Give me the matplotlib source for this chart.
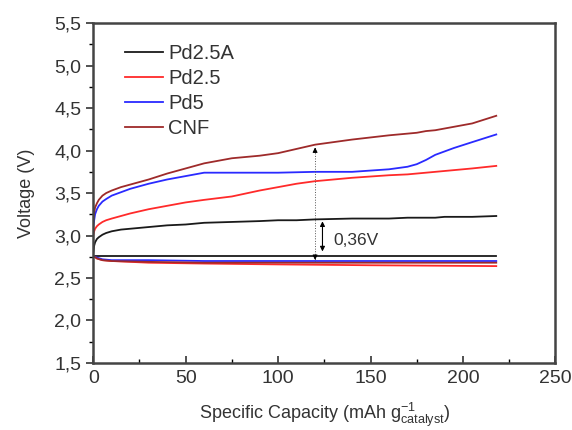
import matplotlib
matplotlib.use("Agg")
import matplotlib.pyplot as plt
from matplotlib.ticker import MultipleLocator, FuncFormatter

plt.rcParams['font.family'] = ['Liberation Sans', 'DejaVu Sans']

# charge curves (capacity, voltage)
cap = [0, 0.5, 1, 2, 3, 5, 7, 10, 15, 20, 30, 40, 50, 60, 75, 90, 100, 110, 120,
       140, 160, 170, 175, 180, 185, 190, 195, 205, 218]
pd25a_charge = [2.80, 2.88, 2.92, 2.96, 2.98, 3.01, 3.03, 3.05, 3.07, 3.08, 3.10, 3.12, 3.13, 3.15,
                3.16, 3.17, 3.18, 3.18, 3.19, 3.20, 3.20, 3.21, 3.21, 3.21, 3.21, 3.22, 3.22, 3.22, 3.23]
pd25_charge = [3.00, 3.05, 3.08, 3.11, 3.13, 3.16, 3.18, 3.20, 3.23, 3.26, 3.31, 3.35, 3.39, 3.42,
               3.46, 3.53, 3.57, 3.61, 3.64, 3.68, 3.71, 3.72, 3.73, 3.74, 3.75, 3.76, 3.77, 3.79, 3.82]
pd5_charge = [3.10, 3.18, 3.25, 3.31, 3.35, 3.40, 3.43, 3.47, 3.51, 3.55, 3.61, 3.66, 3.70, 3.74,
              3.74, 3.74, 3.74, 3.745, 3.75, 3.75, 3.78, 3.81, 3.84, 3.89, 3.95, 3.99, 4.03, 4.10, 4.19]
cnf_charge = [3.20, 3.27, 3.33, 3.38, 3.42, 3.47, 3.50, 3.53, 3.57, 3.60, 3.66, 3.73, 3.79, 3.85,
              3.91, 3.94, 3.97, 4.02, 4.07, 4.13, 4.18, 4.20, 4.21, 4.23, 4.24, 4.26, 4.28, 4.32, 4.41]

# discharge curves
dis_cap = [0, 2, 5, 10, 30, 60, 100, 150, 218]
pd25a_dis = [2.76, 2.76, 2.76, 2.76, 2.76, 2.76, 2.76, 2.76, 2.76]
pd25_dis = [2.76, 2.73, 2.71, 2.70, 2.68, 2.67, 2.66, 2.65, 2.64]
pd5_dis = [2.76, 2.74, 2.72, 2.71, 2.71, 2.70, 2.70, 2.70, 2.70]
cnf_dis = [2.76, 2.73, 2.71, 2.70, 2.69, 2.68, 2.68, 2.68, 2.68]

labels = ["Pd2.5A", "Pd2.5", "Pd5", "CNF"]
colors = ["#1a1a1a", "#ff2a2a", "#2a2aff", "#9e2a2a"]

fig = plt.figure(figsize=(5.72, 4.30), dpi=100)
ax = fig.add_axes([0.163, 0.156, 0.808, 0.79])

charges = [pd25a_charge, pd25_charge, pd5_charge, cnf_charge]
discharges = [pd25a_dis, pd25_dis, pd5_dis, cnf_dis]
for lab, c, ch, dc in zip(labels, colors, charges, discharges):
    ax.plot(cap, ch, color=c, lw=1.3, label=lab)
    ax.plot(dis_cap, dc, color=c, lw=1.3)

# dotted arrow between CNF charge and discharge
ax.plot([120, 120], [2.69, 4.06], color="#555555", lw=0.7, ls=":")
ax.annotate("", xy=(120, 4.07), xytext=(120, 3.95),
            arrowprops=dict(arrowstyle="-|>", color="black", lw=0.7, mutation_scale=7))
ax.annotate("", xy=(120, 2.68), xytext=(120, 2.80),
            arrowprops=dict(arrowstyle="-|>", color="black", lw=0.7, mutation_scale=7))
# overpotential arrow
ax.annotate("", xy=(124, 3.20), xytext=(124, 2.78),
            arrowprops=dict(arrowstyle="<|-|>", color="black", lw=0.8, mutation_scale=7))
ax.text(130, 2.94, "0,36V", fontsize=12.5, color="#333333", va="center")

ax.set_xlim(0, 250)
ax.set_ylim(1.5, 5.5)
ax.xaxis.set_major_locator(MultipleLocator(50))
ax.yaxis.set_major_locator(MultipleLocator(0.5))
ax.yaxis.set_minor_locator(MultipleLocator(0.25))
ax.xaxis.set_minor_locator(MultipleLocator(25))
ax.yaxis.set_major_formatter(FuncFormatter(lambda v, p: f"{v:.1f}".replace(".", ",")))
ax.tick_params(labelsize=14, colors="#333333", width=1.2, length=5)
ax.tick_params(axis="x", which="both", direction="in", pad=5)
ax.tick_params(axis="y", which="both", direction="out")
ax.tick_params(which="minor", width=1.0, length=3)
for s in ax.spines.values():
    s.set_linewidth(1.8)
    s.set_color("#444444")

ax.set_ylabel("Voltage (V)", fontsize=13, color="#333333", labelpad=14)
ax.set_xlabel(r"Specific Capacity (mAh g$^{\mathregular{-1}}_{\mathregular{catalyst}}$)",
              fontsize=13, color="#333333", labelpad=10)

ax.legend(loc="upper left", bbox_to_anchor=(0.069, 0.94), frameon=False, fontsize=14.5,
          handlelength=1.9, labelspacing=0.3, handletextpad=0.25, labelcolor="#333333",
          borderpad=0, borderaxespad=0)

fig.savefig("out.png", dpi=100)
